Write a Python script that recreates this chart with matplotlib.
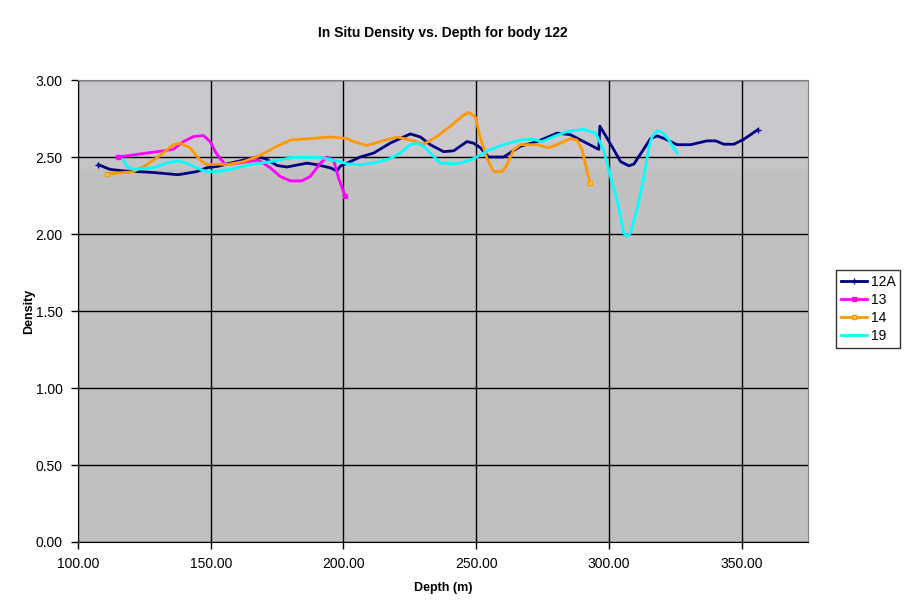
import matplotlib.pyplot as plt
from matplotlib.ticker import FormatStrFormatter

plt.rcParams['font.family'] = ['Liberation Sans', 'DejaVu Sans']

# body 122 density profiles
depth_12a = [107.7, 112, 117, 128, 137.7, 144.7, 148.5, 152.8, 157.3, 167.4, 170.5, 175, 178.7,
             186.2, 190, 195, 197.5, 198.8, 201.3, 206.3, 211.3, 217.6, 225.2, 229, 232.7, 237.7,
             241.5, 246.5, 249, 251.6, 254.7, 260.3, 266.7, 272.9, 280.5, 285.5, 290.5, 295, 296.2,
             296.6, 298.7, 301.9, 304.4, 307.5, 309.4, 312.5, 315.7, 318.2, 321.4, 325.7, 330.8,
             337, 340.2, 343.3, 347.1, 350.9, 356]
dens_12a = [2.45, 2.42, 2.41, 2.40, 2.385, 2.405, 2.43, 2.44, 2.46, 2.50, 2.49, 2.445, 2.435,
            2.46, 2.45, 2.43, 2.41, 2.44, 2.46, 2.50, 2.525, 2.59, 2.65, 2.63, 2.58, 2.535,
            2.54, 2.60, 2.59, 2.56, 2.50, 2.50, 2.57, 2.60, 2.655, 2.645, 2.60, 2.56, 2.55,
            2.70, 2.64, 2.546, 2.47, 2.443, 2.454, 2.535, 2.62, 2.637, 2.616, 2.58, 2.58,
            2.605, 2.605, 2.583, 2.583, 2.616, 2.676]

depth_13 = [115.2, 123.4, 132.2, 135.9, 139.7, 143.5, 147.2, 149.8, 151.7, 153.5, 155.6, 160,
            164, 168, 172.4, 176.2, 179.9, 184.3, 187.5, 191.3, 193.8, 196.3, 198.2, 200.7]
dens_13 = [2.50, 2.52, 2.54, 2.55, 2.60, 2.633, 2.64, 2.60, 2.535, 2.49, 2.45, 2.46,
           2.47, 2.48, 2.43, 2.374, 2.345, 2.345, 2.374, 2.46, 2.50, 2.48, 2.36, 2.244]

depth_14 = [110.8, 120.9, 125.9, 130.9, 135.9, 138.5, 142.2, 146, 148.5, 152.9, 156, 162.3,
            168.6, 174.9, 180, 187.5, 195, 201.3, 203.8, 208.8, 213.9, 220.1, 225.2, 230.2,
            235.2, 240.3, 245.3, 247.2, 249.7, 251.6, 254.1, 256.6, 259.7, 261.6, 264.1, 266.7,
            272.9, 277.3, 280.5, 285.5, 288, 289.9, 291.8, 293]
dens_14 = [2.39, 2.405, 2.45, 2.51, 2.58, 2.59, 2.56, 2.48, 2.45, 2.454, 2.45, 2.47,
           2.51, 2.57, 2.61, 2.62, 2.63, 2.62, 2.60, 2.575, 2.60, 2.63, 2.61, 2.583,
           2.633, 2.70, 2.773, 2.79, 2.76, 2.62, 2.49, 2.405, 2.405, 2.45, 2.546, 2.58,
           2.58, 2.56, 2.58, 2.62, 2.61, 2.546, 2.406, 2.33]

depth_19 = [117.1, 118.3, 120.9, 128.4, 133.4, 137.2, 141, 146, 148.5, 152.9, 157.3, 164.9,
            172.4, 181.2, 191.3, 198.8, 201.3, 206.3, 211.3, 217.6, 221.4, 225.2, 227.7, 230.2,
            233.4, 236.5, 242.8, 247.8, 251, 254.1, 260.3, 266.7, 271, 274.8, 279.2, 284.2,
            290.5, 295, 298, 300.6, 303.1, 305.6, 306.9, 308.1, 310.6, 313.2, 315.1, 316.3,
            318.2, 320.1, 322.6, 325.7]
dens_19 = [2.48, 2.44, 2.42, 2.43, 2.46, 2.475, 2.46, 2.42, 2.406, 2.406, 2.42, 2.45,
           2.47, 2.497, 2.497, 2.47, 2.456, 2.45, 2.46, 2.49, 2.525, 2.58, 2.59, 2.57,
           2.514, 2.46, 2.456, 2.48, 2.507, 2.54, 2.58, 2.61, 2.616, 2.60, 2.633, 2.665,
           2.68, 2.655, 2.546, 2.373, 2.22, 2.006, 1.985, 2.006, 2.16, 2.373, 2.568, 2.633,
           2.672, 2.66, 2.61, 2.525]

fig = plt.figure(figsize=(9.06, 6.15), dpi=100)
ax = fig.add_axes([0.0861, 0.1187, 0.8057, 0.7512])
ax.set_facecolor('#c0c0c0')
ax.axhspan(2.5, 3.0, color='#cac8cc', zorder=0, lw=0)
ax.axhspan(2.42, 2.5, color='#c5c4c7', zorder=0, lw=0)

ax.plot(depth_12a, dens_12a, color='#000080', lw=2, marker='+', ms=4, mew=1,
        markevery=[0, len(depth_12a) - 1], label='12A', zorder=3)
ax.plot(depth_13, dens_13, color='#ff00ff', lw=2, marker='s', ms=3,
        markevery=[0, len(depth_13) - 1], label='13', zorder=3)
ax.plot(depth_14, dens_14, color='#ff9900', lw=2, marker='s', ms=3, mfc='#ffcc66',
        markevery=[0, len(depth_14) - 1], label='14', zorder=3)
ax.plot(depth_19, dens_19, color='#00ffff', lw=2, label='19', zorder=3)

ax.set_xlim(100, 375)
ax.set_ylim(0, 3.0)
ax.set_xticks([100, 150, 200, 250, 300, 350])
ax.set_yticks([0, 0.5, 1.0, 1.5, 2.0, 2.5, 3.0])
ax.xaxis.set_major_formatter(FormatStrFormatter('%.2f'))
ax.yaxis.set_major_formatter(FormatStrFormatter('%.2f'))
ax.grid(True, color='black', lw=1, zorder=1)
ax.set_axisbelow(True)
ax.tick_params(direction='out', length=5, width=1, labelsize=10, pad=6)

for side in ['top', 'right']:
    ax.spines[side].set_color('#808080')
for side in ['left', 'bottom']:
    ax.spines[side].set_color('black')

ax.set_title('In Situ Density vs. Depth for body 122', fontsize=10, fontweight='bold', pad=31)
ax.set_xlabel('Depth (m)', fontsize=9, fontweight='bold', labelpad=8)
ax.set_ylabel('Density', fontsize=9, fontweight='bold', labelpad=0)

leg = fig.legend(loc='upper left', bbox_to_anchor=(0.9227, 0.561), borderaxespad=0,
                 fontsize=10, frameon=True, fancybox=False, edgecolor='black',
                 handlelength=1.9, borderpad=0.35, labelspacing=0.3, handletextpad=0.25)
leg.get_frame().set_linewidth(1)

fig.savefig('out.png', dpi=100)
